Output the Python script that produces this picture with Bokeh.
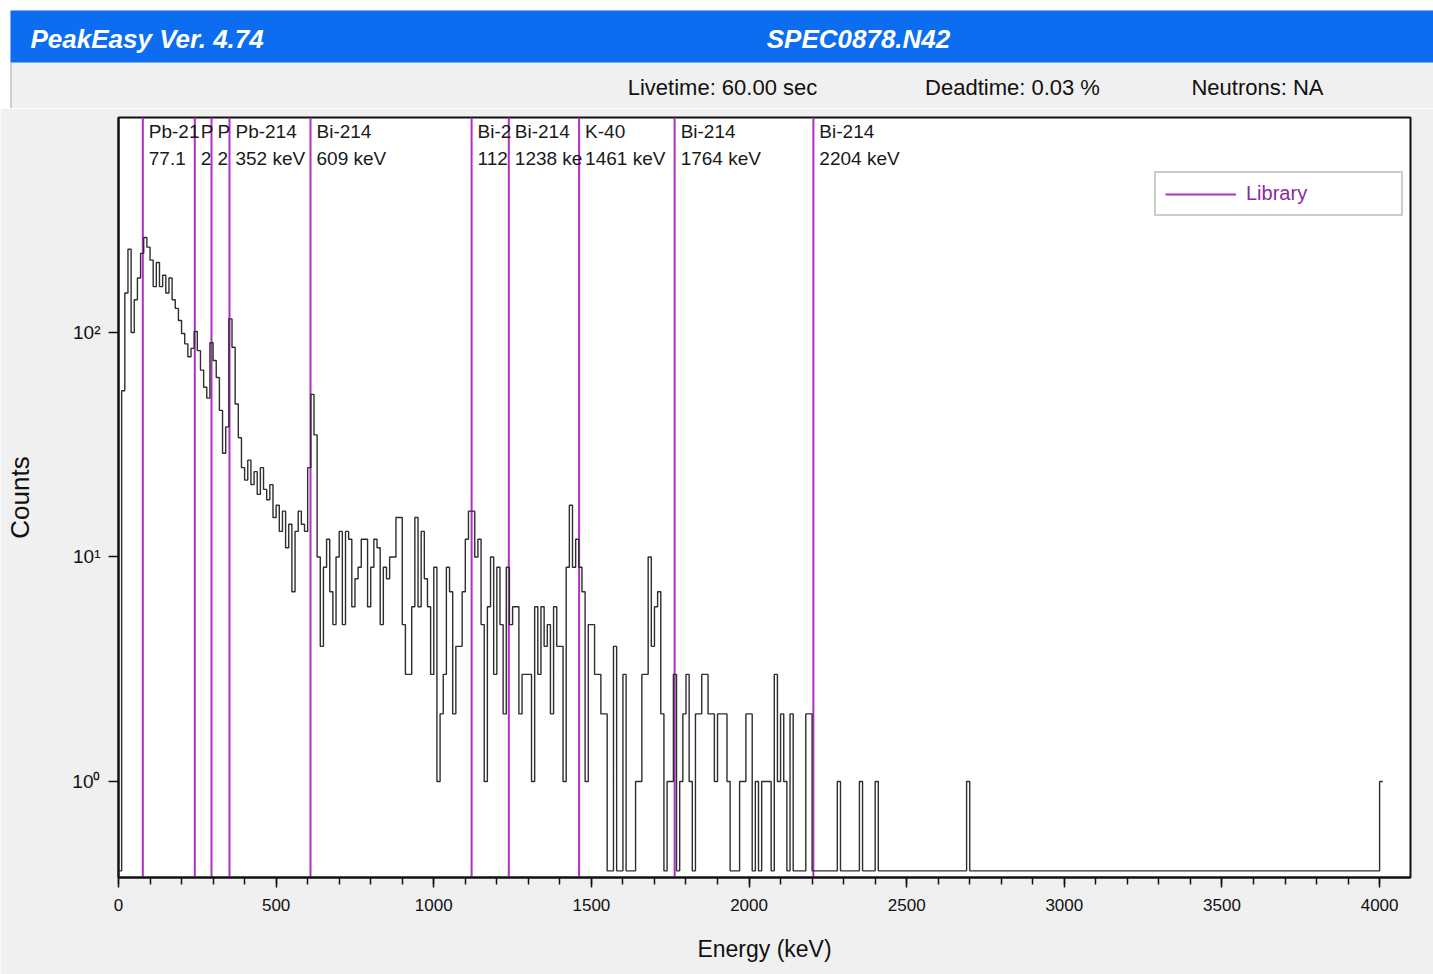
from bokeh.plotting import figure
from bokeh.layouts import column
from bokeh.models import Range1d, FixedTicker, Legend, LegendItem
from bokeh.core.properties import value
from bokeh.embed import file_html
from bokeh.resources import INLINE

FONT = "Liberation Sans"

# ---------------- data ----------------
bin_width_keV = 10
# counts per 10 keV bin, bins starting at 0, 10, ..., 2210 keV
counts = [
    0, 55, 150, 235, 100, 140, 175, 225, 265, 240,      # 0-90
    210, 160, 205, 160, 180, 150, 175, 140, 128, 113,   # 100-190
    99, 89, 78, 85, 101, 83, 68, 57, 51, 90,            # 200-290
    75, 63, 45, 29, 38, 115, 86, 48, 34, 25,            # 300-390
    22, 27, 21, 24, 19, 25, 20, 18, 21, 15,             # 400-490
    17, 13, 16, 11, 14, 7, 13, 16, 14, 13,              # 500-590
    25, 53, 35, 10, 4, 9, 12, 7, 5, 10,                 # 600-690
    13, 5, 13, 12, 6, 8, 9, 12, 12, 6,                  # 700-790
    9, 12, 11, 5, 9, 8, 10, 10, 15, 15,                 # 800-890
    5, 3, 3, 6, 15, 6, 13, 8, 6, 3,                     # 900-990
    9, 1, 2, 3, 9, 7, 2, 4, 4, 7,                       # 1000-1090
    12, 16, 16, 10, 12, 5, 1, 6, 10, 3,                 # 1100-1190
    9, 5, 2, 9, 5, 6, 6, 2, 3, 3,                       # 1200-1290
    3, 1, 6, 3, 6, 4, 5, 2, 6, 4,                       # 1300-1390
    4, 1, 9, 17, 9, 12, 9, 7, 1, 5,                     # 1400-1490
    5, 3, 3, 2, 2, 0, 0, 4, 0, 0,                       # 1500-1590
    3, 0, 0, 0, 1, 1, 3, 3, 10, 4,                      # 1600-1690
    6, 7, 2, 0, 1, 1, 3, 0, 1, 2,                       # 1700-1790
    3, 1, 0, 2, 2, 3, 3, 2, 2, 1,                       # 1800-1890
    2, 2, 2, 1, 0, 0, 0, 1, 1, 2,                       # 1900-1990
    2, 0, 1, 0, 1, 1, 1, 0, 3, 1,                       # 2000-2090
    2, 1, 0, 2, 0, 0, 0, 0, 2, 2,                       # 2100-2190
    0, 0,                                               # 2200-2210
]
# sparse tail: bins (start keV) above 2220 keV holding a single count
tail_single_count_bins_keV = [2280, 2350, 2400, 2690, 4000]
spectrum_end_keV = 4010
zero_display_floor = 0.4

library_energies = [77.1, 242, 295, 352, 609, 1120, 1238, 1461, 1764, 2204]
library_names = ["Pb-21", "P", "P", "Pb-214", "Bi-214", "Bi-2", "Bi-214", "K-40", "Bi-214", "Bi-214"]
library_energy_labels = ["77.1", "2", "2", "352 keV", "609 keV", "112", "1238 ke", "1461 keV", "1764 keV", "2204 keV"]

x_major_ticks = [0, 500, 1000, 1500, 2000, 2500, 3000, 3500, 4000]
x_minor_ticks = list(range(0, 4001, 100))
y_major_ticks = [1, 10, 100]
y_tick_labels = {1: "10\u2070", 10: "10\u00b9", 100: "10\u00b2"}

header_texts = ["Livetime: 60.00 sec", "Deadtime: 0.03 %", "Neutrons: NA"]

# ---------------- build spectrum step arrays ----------------
edges = [i * bin_width_keV for i in range(len(counts))]
vals = list(counts)
e = len(counts) * bin_width_keV
while e < spectrum_end_keV:
    edges.append(e)
    vals.append(1 if e in tail_single_count_bins_keV else 0)
    e += bin_width_keV
edges.append(spectrum_end_keV)
vals.append(vals[-1])
disp = [v if v > 0 else zero_display_floor for v in vals]

# ---------------- top bar figure ----------------
W = 1433
TOP_H = 108
top = figure(width=W, height=TOP_H, x_range=Range1d(0, W), y_range=Range1d(TOP_H, 0),
             output_backend="svg", toolbar_location=None, min_border=0,
             x_axis_location=None, y_axis_location=None)
top.frame_align = False
top.outline_line_color = None
top.background_fill_color = "white"
top.border_fill_color = "white"
top.grid.visible = False
top.quad(left=[10], right=[W], top=[10], bottom=[TOP_H], fill_color="#f0f0f0", line_color=None)
top.quad(left=[10], right=[W], top=[10], bottom=[62], fill_color="#0c6df0", line_color=None)
top.segment(x0=[10.5], x1=[10.5], y0=[62], y1=[TOP_H], line_color="#a8a8a8", line_width=1)
top.text(x=[30], y=[38], text=["PeakEasy Ver. 4.74"], text_color="white",
         text_font=value(FONT), text_font_size="26px", text_font_style="bold italic",
         text_baseline="middle", text_align="left")
top.text(x=[858], y=[38], text=["SPEC0878.N42"], text_color="white",
         text_font=value(FONT), text_font_size="26px", text_font_style="bold italic",
         text_baseline="middle", text_align="center")
top.text(x=[722, 1012, 1257], y=[87, 87, 87], text=header_texts, text_color="#111111",
         text_font=value(FONT), text_font_size="22px",
         text_baseline="middle", text_align="center")

# ---------------- main figure ----------------
ymin, ymax = 0.3736, 907.0
p = figure(width=W, height=974 - TOP_H, x_range=Range1d(0, 4098), y_range=Range1d(ymin, ymax),
           y_axis_type="log", output_backend="svg", toolbar_location=None,
           min_border_left=118, min_border_right=23, min_border_top=9, min_border_bottom=97)
p.frame_align = False
p.background_fill_color = "white"
p.border_fill_color = "#f0f0f0"
p.outline_line_color = "#111111"
p.outline_line_width = 2
p.grid.visible = False

p.xaxis.ticker = FixedTicker(ticks=x_major_ticks, minor_ticks=x_minor_ticks)
p.yaxis.ticker = FixedTicker(ticks=y_major_ticks, minor_ticks=[])
p.yaxis.major_label_overrides = y_tick_labels

for ax in (p.xaxis, p.yaxis):
    ax.axis_line_color = "#111111"
    ax.axis_line_width = 2
    ax.major_tick_line_color = "#111111"
    ax.major_tick_line_width = 1.5
    ax.minor_tick_line_color = "#111111"
    ax.minor_tick_line_width = 1.5
    ax.major_tick_in = 0
    ax.major_tick_out = 10
    ax.minor_tick_in = 0
    ax.minor_tick_out = 7
    ax.major_label_text_font = FONT
    ax.major_label_text_color = "#111111"
    ax.axis_label_text_font = FONT
    ax.axis_label_text_font_style = "normal"
    ax.axis_label_text_color = "#111111"

p.xaxis.major_label_text_font_size = "17px"
p.xaxis.major_label_standoff = 11
p.yaxis.major_label_text_font_size = "19px"
p.yaxis.major_label_standoff = 8

p.xaxis.axis_label = "Energy (keV)"
p.xaxis.axis_label_text_font_size = "23px"
p.xaxis.axis_label_standoff = 22
p.yaxis.axis_label = "Counts"
p.yaxis.axis_label_text_font_size = "26px"
p.yaxis.axis_label_standoff = 34

# library lines
n = len(library_energies)
seg = p.segment(x0=library_energies, x1=library_energies, y0=[ymin] * n, y1=[ymax] * n,
                line_color="#b02fc4", line_width=2)

# spectrum
p.step(x=edges, y=disp, mode="after", line_color="#2e2e2e", line_width=1.4)

# peak labels
row1_y = 10 ** (2 + (332 - 131) / 224.5)
row2_y = 10 ** (2 + (332 - 158) / 224.5)
p.text(x=library_energies, y=[row1_y] * n, text=library_names, x_offset=6,
       text_font=value(FONT), text_font_size="19px", text_color="#1a1a1a",
       text_baseline="middle", text_align="left")
p.text(x=library_energies, y=[row2_y] * n, text=library_energy_labels, x_offset=6,
       text_font=value(FONT), text_font_size="19px", text_color="#1a1a1a",
       text_baseline="middle", text_align="left")

legend = Legend(items=[LegendItem(label="Library", renderers=[seg])], location=(1036, 661))
legend.border_line_color = "#9a9a9a"
legend.border_line_width = 2
legend.background_fill_color = "white"
legend.background_fill_alpha = 1
legend.label_text_color = "#8a2a9c"
legend.label_text_font = FONT
legend.label_text_font_size = "20px"
legend.glyph_width = 71
legend.glyph_height = 18
legend.label_height = 18
legend.label_standoff = 10
legend.label_width = 146
legend.padding = 9
legend.margin = 0
legend.spacing = 0
p.add_layout(legend)

layout = column(top, p, spacing=0)
open("out.html", "w").write(file_html(layout, INLINE))
